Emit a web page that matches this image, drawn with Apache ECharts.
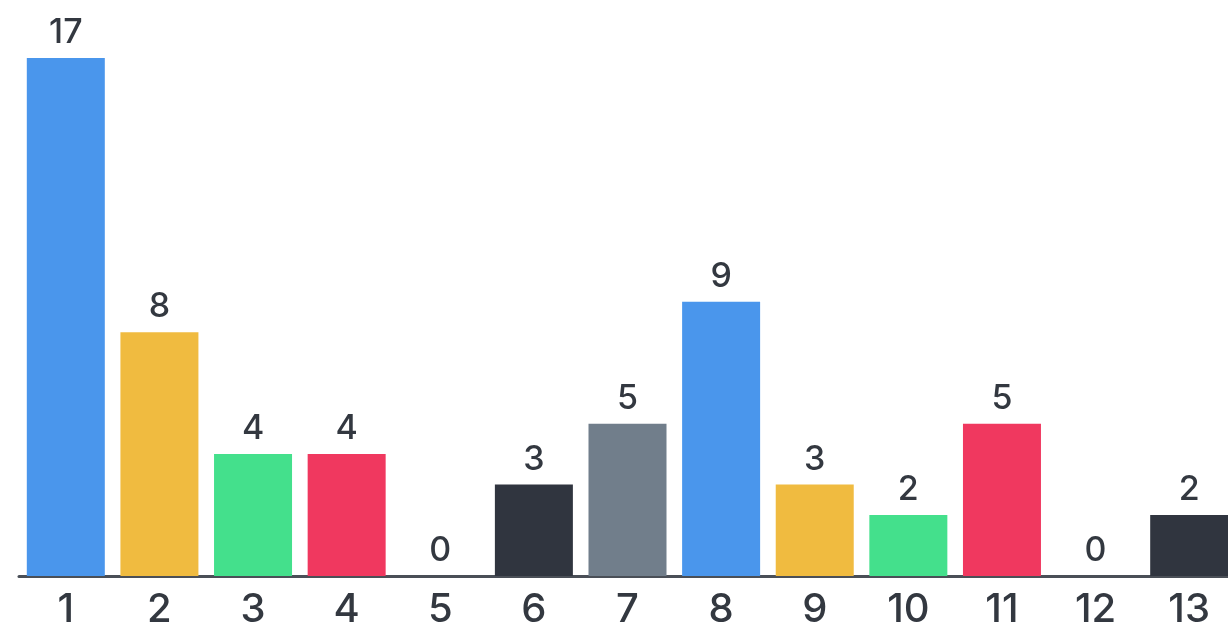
<!DOCTYPE html>
<html><head><meta charset="utf-8">
<script src="https://cdn.jsdelivr.net/npm/echarts@6/dist/echarts.min.js"></script>
<style>html,body{margin:0;padding:0;background:#fff;overflow:hidden}#c{width:1236px;height:630px}</style>
</head><body><div id="c"></div>
<script>
const categories = ['1','2','3','4','5','6','7','8','9','10','11','12','13'];
const values = [17, 8, 4, 4, 0, 3, 5, 9, 3, 2, 5, 0, 2];
const palette = ['#4a96ec', '#f0bb40', '#44e08c', '#f0385f', '#9b6fe0', '#30353f', '#717e8b'];

const chart = echarts.init(document.getElementById('c'));
chart.setOption({
  animation: false,
  grid: { left: 19, right: 0, top: 58, bottom: 52 },
  xAxis: {
    type: 'category', data: categories,
    axisLine: { lineStyle: { color: '#4a4f57', width: 3 } },
    axisTick: { show: false },
    axisLabel: { color: '#333840', fontSize: 40, fontWeight: 500, fontFamily: 'Inter', margin: 14 }
  },
  yAxis: { type: 'value', min: 0, max: 17, show: false, splitLine: { show: false } },
  series: [{
    type: 'bar', barWidth: 78,
    data: values.map((v, i) => ({ value: v, itemStyle: { color: palette[i % palette.length] } })),
    label: { show: true, position: 'top', distance: 8, color: '#333840', fontSize: 34, fontWeight: 500, fontFamily: 'Inter' }
  }]
});
</script></body></html>
